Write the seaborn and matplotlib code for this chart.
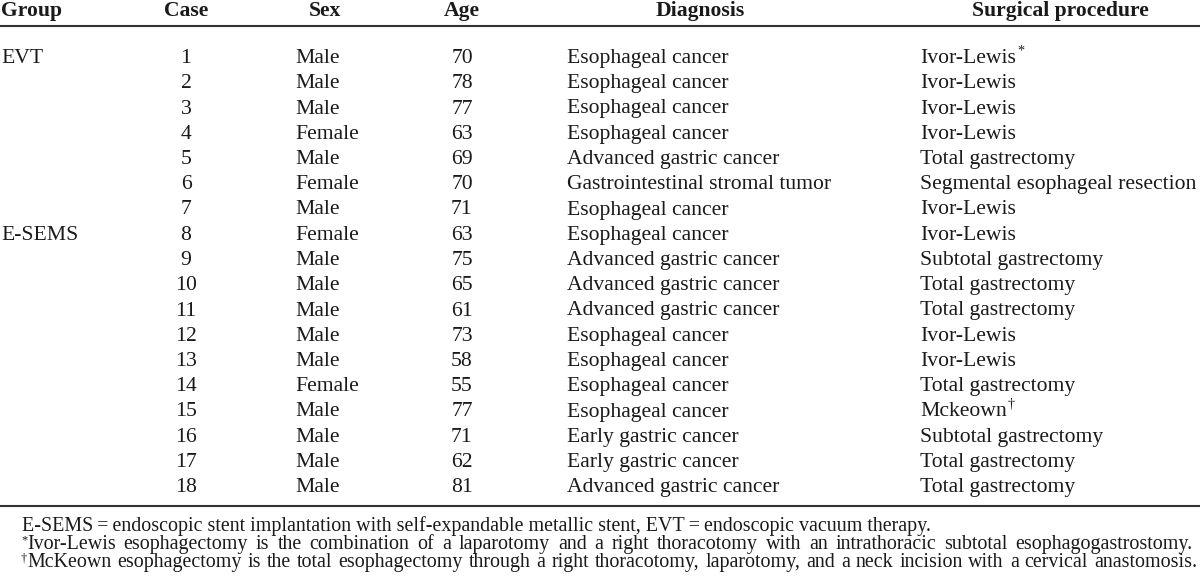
import matplotlib
matplotlib.use("Agg")
import matplotlib.pyplot as plt
import seaborn as sns

# Table contents
headers = ["Group", "Case", "Sex", "Age", "Diagnosis", "Surgical procedure"]
groups = ["EVT", "", "", "", "", "", "", "E-SEMS", "", "", "", "", "", "", "", "", "", ""]
cases = list(range(1, 19))
sexes = ["Male", "Male", "Male", "Female", "Male", "Female", "Male", "Female", "Male",
         "Male", "Male", "Male", "Male", "Female", "Male", "Male", "Male", "Male"]
ages = [70, 78, 77, 63, 69, 70, 71, 63, 75, 65, 61, 73, 58, 55, 77, 71, 62, 81]
diagnoses = ["Esophageal cancer", "Esophageal cancer", "Esophageal cancer", "Esophageal cancer",
             "Advanced gastric cancer", "Gastrointestinal stromal tumor", "Esophageal cancer",
             "Esophageal cancer", "Advanced gastric cancer", "Advanced gastric cancer",
             "Advanced gastric cancer", "Esophageal cancer", "Esophageal cancer",
             "Esophageal cancer", "Esophageal cancer", "Early gastric cancer",
             "Early gastric cancer", "Advanced gastric cancer"]
procedures = ["Ivor-Lewis", "Ivor-Lewis", "Ivor-Lewis", "Ivor-Lewis", "Total gastrectomy",
              "Segmental esophageal resection", "Ivor-Lewis", "Ivor-Lewis",
              "Subtotal gastrectomy", "Total gastrectomy", "Total gastrectomy", "Ivor-Lewis",
              "Ivor-Lewis", "Total gastrectomy", "Mckeown", "Subtotal gastrectomy",
              "Total gastrectomy", "Total gastrectomy"]
proc_marks = {0: "*", 14: "\u2020"}
footnotes = [
    ("", "E-SEMS\u2009=\u2009endoscopic stent implantation with self-expandable metallic stent, "
         "EVT\u2009=\u2009endoscopic vacuum therapy."),
    ("*", "Ivor-Lewis esophagectomy is the combination of a laparotomy and a right thoracotomy "
          "with an intrathoracic subtotal esophagogastrostomy."),
    ("\u2020", "McKeown esophagectomy is the total esophagectomy through a right thoracotomy, "
               "laparotomy, and a neck incision with a cervical anastomosis."),
]
justify_to = [None, 1193, 1197]

sns.set_theme(style="white")
plt.rcParams["font.family"] = ["Liberation Serif", "DejaVu Serif"]

fig = plt.figure(figsize=(12, 5.84), dpi=100)
ax = fig.add_axes([0, 0, 1, 1])
ax.set_xlim(0, 1200)
ax.set_ylim(584, 0)
ax.axis("off")

fs = 15.6
fs_note = 14.4
ink = "#1a1a1a"
rule = "#333333"

fig.canvas.draw()
renderer = fig.canvas.get_renderer()
inv = ax.transData.inverted()


def right_edge(t):
    bb = t.get_window_extent(renderer)
    return inv.transform((bb.x1, bb.y0))[0]


def width_of(s, size):
    t = ax.text(0, 0, s, fontsize=size)
    bb = t.get_window_extent(renderer)
    t.remove()
    return bb.width


# header
hx = [1, 186, 325, 462, 700, 1060]
ha = ["left", "center", "center", "center", "center", "center"]
for x, h, a in zip(hx, headers, ha):
    ax.text(x, 16, h, ha=a, va="baseline", fontsize=fs, fontweight="bold", color=ink)

ax.axhline(25.5, color=rule, lw=1.5)

y0, dy = 63, 25.25
for i in range(len(cases)):
    y = y0 + i * dy
    ax.text(1, y, groups[i], ha="left", va="baseline", fontsize=fs, color=ink)
    ax.text(186, y, str(cases[i]), ha="center", va="baseline", fontsize=fs, color=ink)
    ax.text(295, y, sexes[i], ha="left", va="baseline", fontsize=fs, color=ink)
    ax.text(462, y, str(ages[i]), ha="center", va="baseline", fontsize=fs, color=ink)
    ax.text(567, y, diagnoses[i], ha="left", va="baseline", fontsize=fs, color=ink)
    t = ax.text(920, y, procedures[i], ha="left", va="baseline", fontsize=fs, color=ink)
    if i in proc_marks:
        ax.text(right_edge(t) + 1, y - 8, proc_marks[i], ha="left", va="baseline",
                fontsize=fs * 0.65, color=ink)

ax.axhline(505.7, color=rule, lw=1.5)

# footnotes (lines 2 and 3 are justified to the right margin)
fy0, fdy = 531, 18.2
for j, (mark, note) in enumerate(footnotes):
    y = fy0 + j * fdy
    if not mark:
        ax.text(22, y, note, ha="left", va="baseline", fontsize=fs_note, color=ink)
        continue
    ax.text(21, y - 6, mark, ha="left", va="baseline", fontsize=fs_note * 0.62, color=ink)
    words = note.split(" ")
    ws = [width_of(w, fs_note) for w in words]
    x_left, x_right = 27, justify_to[j]
    gap = (x_right - x_left - sum(ws)) / (len(words) - 1)
    x = x_left
    for w, wd in zip(words, ws):
        ax.text(x, y, w, ha="left", va="baseline", fontsize=fs_note, color=ink)
        x += wd + gap

fig.savefig("out.png", dpi=100, facecolor="white")
